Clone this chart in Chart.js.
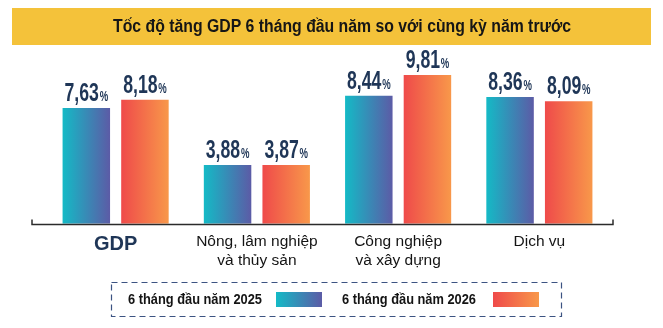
<!DOCTYPE html>
<html>
<head>
<meta charset="utf-8">
<script src="https://cdn.jsdelivr.net/npm/chart.js@4"></script>
<style>
  html, body { margin: 0; padding: 0; background: #fff; }
  #wrap { width: 663px; height: 328px; position: relative; }
</style>
</head>
<body>
<div id="wrap"><canvas id="chart"></canvas></div>
<script>
// ---------- Data ----------
const TITLE = 'Tốc độ tăng GDP 6 tháng đầu năm so với cùng kỳ năm trước';
const CATEGORIES = ['GDP', ['Nông, lâm nghiệp', 'và thủy sản'], ['Công nghiệp', 'và xây dựng'], 'Dịch vụ'];
const SERIES_NAMES = ['6 tháng đầu năm 2025', '6 tháng đầu năm 2026'];
const H1_2025 = [7.63, 3.88, 8.44, 8.36];
const H1_2026 = [8.18, 3.87, 9.81, 8.09];

// ---------- Styles ----------
const GRADIENTS = [['#14bac6', '#5c5ba6'], ['#ef4a4a', '#f8984a']];
const NAVY = '#1f3657';
const SANS = '"Liberation Sans", Arial, sans-serif';
const fmt = v => v.toFixed(2).replace('.', ',');

function hGrad(ctx, x0, x1, colors) {
  const g = ctx.createLinearGradient(x0, 0, x1, 0);
  g.addColorStop(0, colors[0]);
  g.addColorStop(1, colors[1]);
  return g;
}

// text squeezed horizontally to a target width (reference uses a condensed face)
function squeezedText(ctx, text, cx, y, targetW) {
  const w = ctx.measureText(text).width;
  const s = Math.min(1, targetW / w);
  ctx.save();
  ctx.translate(cx, y);
  ctx.scale(s, 1);
  ctx.textAlign = 'center';
  ctx.fillText(text, 0, 0);
  ctx.restore();
}

// yellow title bar
const titleBox = {
  id: 'titleBox',
  beforeDraw(chart) {
    const ctx = chart.ctx;
    ctx.save();
    ctx.fillStyle = '#f4c23a';
    ctx.fillRect(12, 8, 639, 37);
    ctx.fillStyle = '#161616';
    ctx.font = 'bold 18px ' + SANS;
    ctx.textBaseline = 'middle';
    squeezedText(ctx, TITLE, 342, 27, 458);
    ctx.restore();
  }
};

// every bar gets its own left->right gradient
const barGradient = {
  id: 'barGradient',
  beforeDatasetsDraw(chart) {
    chart.data.datasets.forEach((ds, di) => {
      chart.getDatasetMeta(di).data.forEach(el => {
        el.options.backgroundColor = hGrad(chart.ctx, el.x - el.width / 2, el.x + el.width / 2, GRADIENTS[di]);
      });
    });
  }
};

// "7,63%" with a smaller percent sign, condensed
const valueLabels = {
  id: 'valueLabels',
  afterDatasetsDraw(chart) {
    const ctx = chart.ctx;
    const sx = 0.68;
    ctx.save();
    ctx.fillStyle = NAVY;
    ctx.textBaseline = 'alphabetic';
    ctx.textAlign = 'left';
    chart.data.datasets.forEach((ds, di) => {
      chart.getDatasetMeta(di).data.forEach((el, i) => {
        const num = fmt(ds.data[i]);
        ctx.font = 'bold 26px ' + SANS;
        const wn = ctx.measureText(num).width;
        ctx.font = 'bold 14px ' + SANS;
        const wp = ctx.measureText('%').width;
        const total = (wn + wp + 1) * sx;
        ctx.save();
        ctx.translate(el.x - total / 2, el.y - 7);
        ctx.scale(sx, 1);
        ctx.font = 'bold 26px ' + SANS;
        ctx.fillText(num, 0, 0);
        ctx.font = 'bold 14px ' + SANS;
        ctx.fillText('%', wn + 1, 0);
        ctx.restore();
      });
    });
    ctx.restore();
  }
};

// base line with small end ticks
const axisLine = {
  id: 'axisLine',
  afterDatasetsDraw(chart) {
    const { ctx, chartArea } = chart;
    const y = Math.round(chartArea.bottom) + 0.5;
    const x0 = 32, x1 = 613;
    ctx.save();
    ctx.strokeStyle = '#2b2b2b';
    ctx.lineWidth = 1.5;
    ctx.beginPath();
    ctx.moveTo(x0, y - 5);
    ctx.lineTo(x0, y);
    ctx.lineTo(x1, y);
    ctx.lineTo(x1, y - 5);
    ctx.stroke();
    ctx.restore();
  }
};

// dashed legend box, text first then swatch
const legendBox = {
  id: 'legendBox',
  afterDraw(chart) {
    const ctx = chart.ctx;
    ctx.save();
    ctx.strokeStyle = '#3c5382';
    ctx.lineWidth = 1.2;
    ctx.setLineDash([6, 4]);
    ctx.strokeRect(111.5, 282.5, 450, 34);
    ctx.setLineDash([]);
    ctx.font = 'bold 15px ' + SANS;
    ctx.textBaseline = 'middle';
    const items = [{ tx: 195, sx: 276 }, { tx: 409, sx: 493 }];
    items.forEach((it, di) => {
      ctx.fillStyle = '#141414';
      squeezedText(ctx, SERIES_NAMES[di], it.tx, 300, 134);
      ctx.fillStyle = hGrad(ctx, it.sx, it.sx + 46, GRADIENTS[di]);
      ctx.fillRect(it.sx, 292, 46, 15);
    });
    ctx.restore();
  }
};

// ---------- Chart ----------
new Chart(document.getElementById('chart'), {
  type: 'bar',
  data: {
    labels: CATEGORIES,
    datasets: [
      { label: SERIES_NAMES[0], data: H1_2025, backgroundColor: () => GRADIENTS[0][0] },
      { label: SERIES_NAMES[1], data: H1_2026, backgroundColor: () => GRADIENTS[1][0] },
    ],
  },
  options: {
    responsive: true,
    maintainAspectRatio: false,
    animation: false,
    categoryPercentage: 0.83,
    barPercentage: 0.81,
    layout: { padding: { left: 45, right: 53, top: 57, bottom: 49 } },
    plugins: { legend: { display: false }, title: { display: false }, tooltip: { enabled: false } },
    scales: {
      y: { display: false, min: 0, max: 11 },
      x: {
        grid: { display: false, drawTicks: false },
        border: { display: false },
        ticks: {
          padding: 9,
          maxRotation: 0,
          autoSkip: false,
          color: c => c.index === 0 ? NAVY : '#141414',
          font: c => c.index === 0
            ? { family: SANS, size: 20, weight: 'bold', lineHeight: 1.2 }
            : { family: SANS, size: 15.5, lineHeight: 1.2 },
        },
      },
    },
  },
  plugins: [titleBox, barGradient, valueLabels, axisLine, legendBox],
});
</script>
</body>
</html>
